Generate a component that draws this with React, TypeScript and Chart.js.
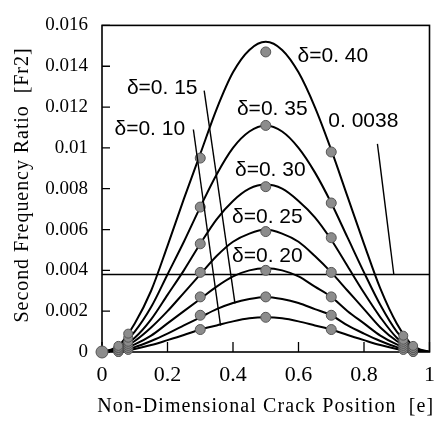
import React, { useEffect, useRef } from 'react';
import { Chart, registerables } from 'chart.js';
Chart.register(...registerables);

// ---- data ----
const xPositions = [0, 0.05, 0.1, 0.15, 0.2, 0.25, 0.3, 0.35, 0.4, 0.45, 0.5, 0.55, 0.6, 0.65, 0.7, 0.75, 0.8, 0.85, 0.9, 0.95, 1];
const curveD40 = [0, 0.0003, 0.0014, 0.003, 0.0052, 0.0075, 0.0097, 0.0119, 0.0137, 0.0148, 0.0152, 0.0148, 0.0137, 0.012, 0.0099, 0.0076, 0.0053, 0.0031, 0.0014, 0.0003, 0];
const curveD35 = [0, 0.0002, 0.001, 0.0022, 0.0038, 0.0054, 0.0071, 0.0087, 0.01, 0.0108, 0.0111, 0.0108, 0.01, 0.0088, 0.0073, 0.0056, 0.0039, 0.0023, 0.001, 0.0002, 0];
const curveD30 = [0, 0.00016, 0.0007, 0.0016, 0.0028, 0.004, 0.0053, 0.0065, 0.0074, 0.008, 0.0082, 0.008, 0.0074, 0.0066, 0.0055, 0.0042, 0.0029, 0.0017, 0.0007, 0.00016, 0];
const curveD25 = [0, 0.00012, 0.00054, 0.0012, 0.002, 0.0029, 0.0038, 0.0047, 0.0054, 0.0058, 0.006, 0.0058, 0.0054, 0.0047, 0.0039, 0.003, 0.0021, 0.0012, 0.00054, 0.00012, 0];
const curveD20 = [0, 0.00008, 0.00037, 0.0008, 0.0014, 0.002, 0.0026, 0.0032, 0.0037, 0.004, 0.0041, 0.004, 0.0037, 0.0032, 0.0027, 0.002, 0.0014, 0.0008, 0.00037, 0.00008, 0];
const curveD15 = [0, 0.00005, 0.00024, 0.00054, 0.0009, 0.0013, 0.0017, 0.0021, 0.0024, 0.0026, 0.0027, 0.0026, 0.0024, 0.0021, 0.0018, 0.0013, 0.0009, 0.00054, 0.00024, 0.00005, 0];
const curveD10 = [0, 0.00003, 0.00015, 0.00034, 0.00058, 0.00083, 0.0011, 0.0013, 0.0015, 0.00165, 0.0017, 0.00165, 0.0015, 0.0013, 0.0011, 0.00083, 0.00058, 0.00034, 0.00015, 0.00003, 0];
const curves = [curveD40, curveD35, curveD30, curveD25, curveD20, curveD15, curveD10];
const deltaLabels = ['δ=0. 40', 'δ=0. 35', 'δ=0. 30', 'δ=0. 25', 'δ=0. 20', 'δ=0. 15', 'δ=0. 10'];

// measured points (one value per curve, δ=0.40 … δ=0.10)
const markerXs = [0.3, 0.5, 0.7];
const markersAt03 = [0.0095, 0.0071, 0.0053, 0.0039, 0.0027, 0.0018, 0.0011];
const markersAt05 = [0.0147, 0.0111, 0.0081, 0.0059, 0.004, 0.0027, 0.0017];
const markersAt07 = [0.0098, 0.0073, 0.0056, 0.0039, 0.0027, 0.0018, 0.0011];
const markerRows = [markersAt03, markersAt05, markersAt07];
const clusterXs = [0.05, 0.08, 0.92, 0.95];
const clusterAt005 = [0.0003, 0.0002, 0.0002, 0.0001, 0.0001, 0, 0];
const clusterAt008 = [0.0009, 0.0007, 0.0005, 0.0004, 0.0003, 0.0002, 0.0001];
const clusterAt092 = [0.0008, 0.0006, 0.0005, 0.0004, 0.0003, 0.0002, 0.0001];
const clusterAt095 = [0.0003, 0.0002, 0.0002, 0.0001, 0.0001, 0, 0];
const clusterRows = [clusterAt005, clusterAt008, clusterAt092, clusterAt095];
const originPoint = { x: 0, y: 0 };

const thresholdValue = 0.0038;
const thresholdLabel = '0. 0038';

const xTickValues = [0, 0.2, 0.4, 0.6, 0.8, 1];
const xTickLabels = ['0', '0.2', '0.4', '0.6', '0.8', '1'];
const yTickValues = [0, 0.002, 0.004, 0.006, 0.008, 0.01, 0.012, 0.014, 0.016];
const yTickLabels = ['0', '0.002', '0.004', '0.006', '0.008', '0.01', '0.012', '0.014', '0.016'];

const xTitle = 'Non-Dimensional Crack Position  [e]';
const yTitle = 'Second Frequency Ratio  [Fr2]';

// ---- annotation placement (data units) ----
const labelAnchors = [
  [0.597, 0.0145],
  [0.412, 0.0119],
  [0.406, 0.0089],
  [0.397, 0.0066],
  [0.397, 0.0047],
  [0.076, 0.0129],
  [0.038, 0.0109],
];
const thresholdAnchor = [0.691, 0.0113];
const leaders = [
  [0.312, 0.0128, 0.406, 0.00238],
  [0.279, 0.0109, 0.362, 0.00129],
  [0.841, 0.0102, 0.891, 0.0038],
];

const W = 445;
const H = 423;

const decorPlugin = {
  id: 'decor',
  beforeDatasetsDraw(chart: any) {
    const { ctx, chartArea: a } = chart;
    const xs = chart.scales.x;
    const ys = chart.scales.y;
    ctx.save();
    ctx.strokeStyle = '#000';
    ctx.lineWidth = 1.6;
    ctx.strokeRect(a.left, a.top, a.right - a.left, a.bottom - a.top);
    ctx.lineWidth = 1.3;
    ctx.beginPath();
    yTickValues.forEach((v) => {
      const py = ys.getPixelForValue(v);
      ctx.moveTo(a.left, py);
      ctx.lineTo(a.left + 8, py);
    });
    xTickValues.forEach((v) => {
      const px = xs.getPixelForValue(v);
      ctx.moveTo(px, a.bottom);
      ctx.lineTo(px, a.bottom - 10);
    });
    ctx.stroke();
    ctx.restore();
  },
  afterDraw(chart: any) {
    const { ctx, chartArea: a } = chart;
    const xs = chart.scales.x;
    const ys = chart.scales.y;
    const P = (x: number, y: number) => [xs.getPixelForValue(x), ys.getPixelForValue(y)];
    ctx.save();
    // leader lines
    ctx.strokeStyle = '#000';
    ctx.lineWidth = 1.4;
    leaders.forEach(([x1, y1, x2, y2]) => {
      const [ax, ay] = P(x1, y1);
      const [bx, by] = P(x2, y2);
      ctx.beginPath();
      ctx.moveTo(ax, ay);
      ctx.lineTo(bx, by);
      ctx.stroke();
    });
    // labels
    ctx.fillStyle = '#000';
    ctx.font = '21px "Liberation Sans", Arial, sans-serif';
    ctx.textAlign = 'left';
    ctx.textBaseline = 'middle';
    deltaLabels.forEach((t, i) => {
      const [px, py] = P(labelAnchors[i][0], labelAnchors[i][1]);
      ctx.fillText(t, px, py);
    });
    {
      const [px, py] = P(thresholdAnchor[0], thresholdAnchor[1]);
      ctx.fillText(thresholdLabel, px, py);
    }
    // axis titles
    const fitText = (text: string, target: number, font: string) => {
      ctx.font = font;
      (ctx as any).letterSpacing = '0px';
      const w = ctx.measureText(text).width;
      const ls = (target - w) / text.length;
      (ctx as any).letterSpacing = ls + 'px';
    };
    ctx.textAlign = 'center';
    ctx.textBaseline = 'middle';
    fitText(xTitle, 337, '20px "Liberation Serif", serif');
    ctx.fillText(xTitle, (a.left + a.right) / 2, 407);
    ctx.save();
    ctx.translate(23, 185);
    ctx.rotate(-Math.PI / 2);
    fitText(yTitle, 275, '20px "Liberation Serif", serif');
    ctx.fillText(yTitle, 0, 0);
    ctx.restore();
    ctx.restore();
  },
};

export default function App() {
  const ref = useRef<HTMLCanvasElement>(null);
  useEffect(() => {
    if (!ref.current) return;
    const lineSets = curves.map((c, i) => ({
      label: deltaLabels[i],
      data: xPositions.map((x, j) => ({ x, y: c[j] })),
      showLine: true,
      borderColor: '#000',
      borderWidth: 2,
      pointRadius: 0,
      cubicInterpolationMode: 'monotone' as const,
      order: 2,
    }));
    const markerStyle = {
      showLine: false,
      pointRadius: 5,
      pointBackgroundColor: '#8c8c8c',
      pointBorderColor: '#555',
      pointBorderWidth: 1,
      clip: false as any,
      order: 0,
    };
    const markerSets = curves.map((_, i) => ({
      label: 'm' + i,
      data: markerXs.map((x, k) => ({ x, y: markerRows[k][i] })),
      ...markerStyle,
    }));
    const clusterSets = curves.map((_, i) => ({
      label: 'c' + i,
      data: clusterXs.map((x, k) => ({ x, y: clusterRows[k][i] })),
      ...markerStyle,
      pointRadius: 4.5,
    }));
    const originSet = { label: 'o', data: [originPoint], ...markerStyle, pointRadius: 6 };
    const thresholdSet = {
      label: 't',
      data: [{ x: 0, y: thresholdValue }, { x: 1, y: thresholdValue }],
      showLine: true,
      borderColor: '#000',
      borderWidth: 1.6,
      pointRadius: 0,
      order: 1,
    };
    const chart = new Chart(ref.current, {
      type: 'scatter',
      data: { datasets: [...lineSets, thresholdSet, ...markerSets, ...clusterSets, originSet] as any },
      plugins: [decorPlugin],
      options: {
        animation: false,
        responsive: false,
        layout: { padding: { top: 16, right: 3, left: 0, bottom: 0 } },
        plugins: { legend: { display: false }, tooltip: { enabled: false } },
        scales: {
          x: {
            type: 'linear',
            min: 0,
            max: 1,
            grid: { display: false, drawTicks: false },
            border: { display: false },
            afterBuildTicks: (s: any) => { s.ticks = xTickValues.map((v) => ({ value: v })); },
            ticks: {
              padding: 10,
              color: '#000',
              font: { family: '"Liberation Serif", serif', size: 22 },
              callback: (v: any, i: number) => xTickLabels[i],
              maxRotation: 0,
            },
            afterFit: (s: any) => { s.height = 71; },
          },
          y: {
            type: 'linear',
            min: 0,
            max: 0.016,
            grid: { display: false, drawTicks: false },
            border: { display: false },
            afterBuildTicks: (s: any) => { s.ticks = yTickValues.map((v) => ({ value: v })); },
            ticks: {
              padding: 14,
              color: '#000',
              font: { family: '"Liberation Serif", serif', size: 19 },
              callback: (v: any, i: number) => yTickLabels[i],
            },
            afterFit: (s: any) => { s.width = 102; },
          },
        },
      },
    });
    return () => chart.destroy();
  }, []);
  return (
    <div style={{ position: 'fixed', left: 0, top: 0, width: W, height: H, background: '#fff' }}>
      <canvas ref={ref} width={W} height={H} />
    </div>
  );
}
